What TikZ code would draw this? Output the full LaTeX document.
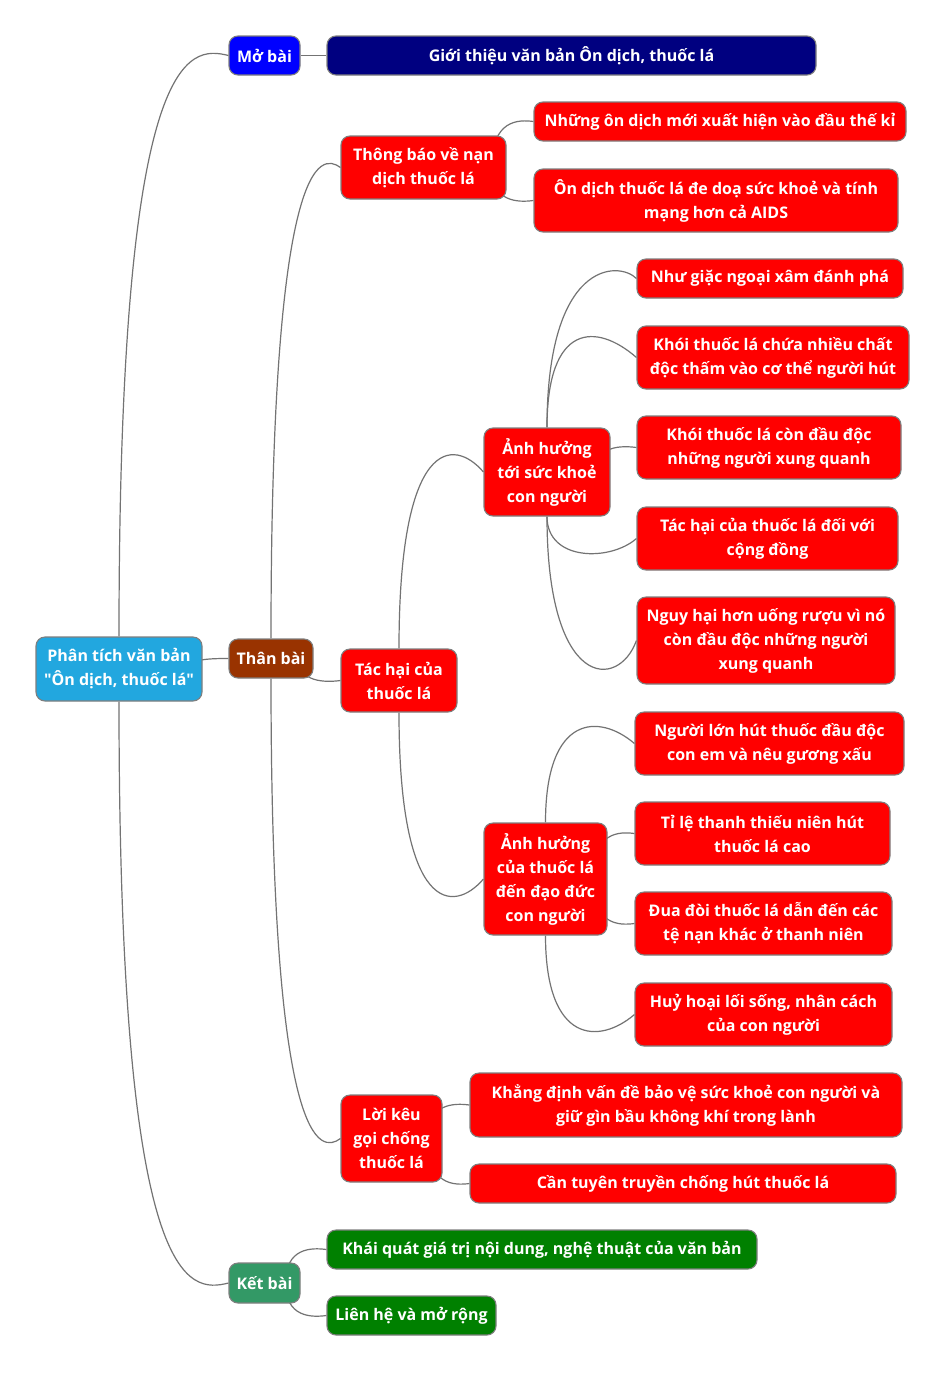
\documentclass[tikz,border=0pt]{standalone}
\usepackage{fontspec}
\setmainfont{Open Sans}[Ligatures=TeXOff]
\usetikzlibrary{calc}
\definecolor{rootblue}{HTML}{22A7DF}
\definecolor{mbblue}{HTML}{0000FF}
\definecolor{navy}{HTML}{000080}
\definecolor{brown}{HTML}{993300}
\definecolor{kbgreen}{HTML}{339966}
\definecolor{dgreen}{HTML}{008000}
\definecolor{pred}{HTML}{FF0000}
\definecolor{bord}{HTML}{7F7F7F}
\definecolor{linec}{HTML}{737373}
\pgfdeclarelayer{back}
\pgfdeclarelayer{bg}
\pgfsetlayers{back,bg,main}
\tikzset{
  box/.style={rounded corners=9pt, draw=bord, line width=1.1pt, text=white,
    font=\fontsize{16}{24}\selectfont\bfseries, inner sep=0pt, align=center},
  redbox/.style={box, fill=pred},
  conn/.style={draw=linec, line width=1.2pt},
}
\begin{document}
\begin{tikzpicture}[x=1pt,y=-1pt]
\begin{pgfonlayer}{back}
\fill[white] (0,0) rectangle (947,1374);
\end{pgfonlayer}
\useasboundingbox (0,0) rectangle (947,1374);
% level 0/1
\node[box, fill=rootblue, minimum width=166, minimum height=64] (root) at (119,669) {Phân tích văn bản\\"Ôn dịch, thuốc lá"};
\node[box, fill=mbblue, minimum width=71, minimum height=39] (mobai) at (264.5,55.5) {Mở bài};
\node[box, fill=navy, minimum width=489, minimum height=39] (gioithieu) at (571.5,55.5) {Giới thiệu văn bản Ôn dịch, thuốc lá};
\node[box, fill=brown, minimum width=84, minimum height=39] (thanbai) at (271,658.5) {Thân bài};
\node[box, fill=kbgreen, minimum width=71, minimum height=40] (ketbai) at (264.5,1283) {Kết bài};
% Than bai children
\node[redbox, minimum width=165, minimum height=63] (thongbao) at (423.5,167.5) {Thông báo về nạn\\dịch thuốc lá};
\node[redbox, minimum width=372, minimum height=39] (nhung) at (720,121.5) {Những ôn dịch mới xuất hiện vào đầu thế kỉ};
\node[redbox, minimum width=364, minimum height=63] (ondich) at (716,200.5) {Ôn dịch thuốc lá đe doạ sức khoẻ và tính\\mạng hơn cả AIDS};
\node[redbox, minimum width=116, minimum height=63] (tachai) at (399,680.5) {Tác hại của\\thuốc lá};
\node[redbox, minimum width=126, minimum height=88] (ah1) at (547,472) {Ảnh hưởng\\tới sức khoẻ\\con người};
\node[redbox, minimum width=266, minimum height=39] (nhugiac) at (770,278.5) {Như giặc ngoại xâm đánh phá};
\node[redbox, minimum width=272, minimum height=63] (khoichua) at (773,357.5) {Khói thuốc lá chứa nhiều chất\\độc thấm vào cơ thể người hút};
\node[redbox, minimum width=264, minimum height=63] (khoicon) at (769,447.5) {Khói thuốc lá còn đầu độc\\những người xung quanh};
\node[redbox, minimum width=261, minimum height=63] (tachaicd) at (767.5,538.5) {Tác hại của thuốc lá đối với\\cộng đồng};
\node[redbox, minimum width=258, minimum height=87] (nguyhai) at (766,640.5) {Nguy hại hơn uống rượu vì nó\\còn đầu độc những người\\xung quanh};
\node[redbox, minimum width=123, minimum height=112] (ah2) at (545.5,879) {Ảnh hưởng\\của thuốc lá\\đến đạo đức\\con người};
\node[redbox, minimum width=269, minimum height=63] (nguoilon) at (769.5,743.5) {Người lớn hút thuốc đầu độc\\con em và nêu gương xấu};
\node[redbox, minimum width=255, minimum height=63] (tile) at (762.5,833.5) {Tỉ lệ thanh thiếu niên hút\\thuốc lá cao};
\node[redbox, minimum width=257, minimum height=63] (duadoi) at (763.5,923.5) {Đua đòi thuốc lá dẫn đến các\\tệ nạn khác ở thanh niên};
\node[redbox, minimum width=257, minimum height=63] (huyhoai) at (763.5,1014.5) {Huỷ hoại lối sống, nhân cách\\của con người};
\node[redbox, minimum width=101, minimum height=87] (loikeu) at (391.5,1138.5) {Lời kêu\\gọi chống\\thuốc lá};
\node[redbox, minimum width=432, minimum height=64] (khangdinh) at (686,1105) {Khẳng định vấn đề bảo vệ sức khoẻ con người và\\giữ gìn bầu không khí trong lành};
\node[redbox, minimum width=426, minimum height=39] (cantuyen) at (683,1183.5) {Cần tuyên truyền chống hút thuốc lá};
% Ket bai children
\node[box, fill=dgreen, minimum width=430, minimum height=39] (khaiquat) at (542,1249.5) {Khái quát giá trị nội dung, nghệ thuật của văn bản};
\node[box, fill=dgreen, minimum width=169, minimum height=39] (lienhe) at (411.5,1315.5) {Liên hệ và mở rộng};
% connectors
\begin{pgfonlayer}{bg}
% vertical branches (from top / bottom of parent)
\draw[conn] (root.north) .. controls ($(root.north |- mobai.west)+(0,-10)$) and ($(mobai.west)+(-40,-10)$) .. (mobai.west);
\draw[conn] (root.south) .. controls ($(root.south |- ketbai.west)+(0,10)$) and ($(ketbai.west)+(-40,10)$) .. (ketbai.west);
\draw[conn] (thanbai.north) .. controls ($(thanbai.north |- thongbao.west)+(0,-15)$) and ($(thongbao.west)+(-20,-15)$) .. (thongbao.west);
\draw[conn] (thanbai.south) .. controls ($(thanbai.south |- loikeu.west)+(0,15)$) and ($(loikeu.west)+(-20,15)$) .. (loikeu.west);
\draw[conn] (tachai.north) .. controls ($(tachai.north |- ah1.west)+(0,-35)$) and ($(ah1.west)+(-30,-35)$) .. (ah1.west);
\draw[conn] (tachai.south) .. controls ($(tachai.south |- ah2.west)+(0,35)$) and ($(ah2.west)+(-30,35)$) .. (ah2.west);
\draw[conn] (ah1.north) .. controls ($(ah1.north |- nhugiac.west)+(0,-18)$) and ($(nhugiac.west)+(-18,-18)$) .. (nhugiac.west);
\draw[conn] (ah1.north) .. controls ($(ah1.north |- khoichua.west)+(0,-35)$) and ($(khoichua.west)+(-40,-35)$) .. (khoichua.west);
\draw[conn] (ah1.south) .. controls ($(ah1.south |- tachaicd.west)+(0,23)$) and ($(tachaicd.west)+(-26,23)$) .. (tachaicd.west);
\draw[conn] (ah1.south) .. controls ($(ah1.south |- nguyhai.west)+(0,50)$) and ($(nguyhai.west)+(-18,50)$) .. (nguyhai.west);
\draw[conn] (ah2.north) .. controls ($(ah2.north |- nguoilon.west)+(0,-30)$) and ($(nguoilon.west)+(-35,-30)$) .. (nguoilon.west);
\draw[conn] (ah2.south) .. controls ($(ah2.south |- huyhoai.west)+(0,30)$) and ($(huyhoai.west)+(-35,30)$) .. (huyhoai.west);
% side branches (from right side of parent)
\draw[conn] (mobai.east) -- (gioithieu.west);
\draw[conn] ($(root.east)+(-15,0)$) .. controls ($(root.east |- thanbai.west)+(-15,0)$) and ($(thanbai.west)+(-15,0)$) .. (thanbai.west);
\draw[conn] ($(thanbai.east)+(-15,0)$) .. controls ($(thanbai.east |- tachai.west)+(-15,2)$) and ($(tachai.west)+(-15,2)$) .. (tachai.west);
\draw[conn] ($(ketbai.east)+(-15,0)$) .. controls ($(ketbai.east |- khaiquat.west)+(-15,-2)$) and ($(khaiquat.west)+(-15,-2)$) .. (khaiquat.west);
\draw[conn] ($(ketbai.east)+(-15,0)$) .. controls ($(ketbai.east |- lienhe.west)+(-15,2)$) and ($(lienhe.west)+(-15,2)$) .. (lienhe.west);
\draw[conn] ($(thongbao.east)+(-15,0)$) .. controls ($(thongbao.east |- nhung.west)+(-15,-2)$) and ($(nhung.west)+(-15,-2)$) .. (nhung.west);
\draw[conn] ($(thongbao.east)+(-15,0)$) .. controls ($(thongbao.east |- ondich.west)+(-15,2)$) and ($(ondich.west)+(-15,2)$) .. (ondich.west);
\draw[conn] ($(ah1.east)+(-15,0)$) .. controls ($(ah1.east |- khoicon.west)+(-15,-2)$) and ($(khoicon.west)+(-15,-2)$) .. (khoicon.west);
\draw[conn] ($(ah2.east)+(-15,0)$) .. controls ($(ah2.east |- tile.west)+(-15,-2)$) and ($(tile.west)+(-15,-2)$) .. (tile.west);
\draw[conn] ($(ah2.east)+(-15,0)$) .. controls ($(ah2.east |- duadoi.west)+(-15,2)$) and ($(duadoi.west)+(-15,2)$) .. (duadoi.west);
\draw[conn] ($(loikeu.east)+(-15,0)$) .. controls ($(loikeu.east |- khangdinh.west)+(-15,-2)$) and ($(khangdinh.west)+(-15,-2)$) .. (khangdinh.west);
\draw[conn] ($(loikeu.east)+(-15,0)$) .. controls ($(loikeu.east |- cantuyen.west)+(-15,2)$) and ($(cantuyen.west)+(-15,2)$) .. (cantuyen.west);
\end{pgfonlayer}
\end{tikzpicture}
\end{document}
